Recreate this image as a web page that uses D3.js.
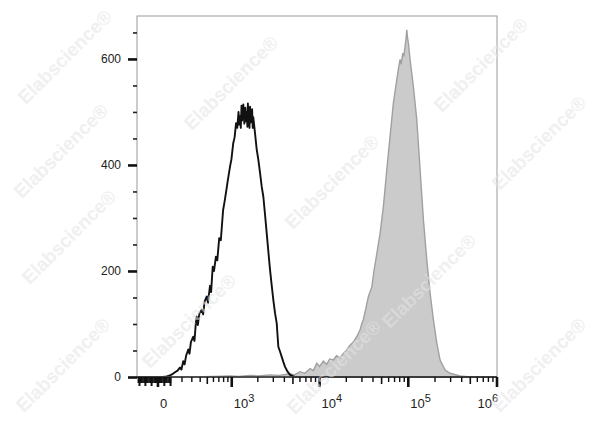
<!DOCTYPE html>
<html><head><meta charset="utf-8">
<script src="https://cdn.jsdelivr.net/npm/d3@7/dist/d3.min.js"></script>
<style>body{margin:0;background:#fff}svg{display:block}text{font-family:"Liberation Sans",Arial,sans-serif}</style>
</head><body><svg id="c" width="600" height="427"></svg>
<script>
// Control (unstained) histogram: fluorescence value, event count
const ctrlX=[-172,-100,0,40,69,95,120,137,160,181,195,212,225,240,262,275,290,316,330,345,356,370,390,421,440,460,492,510,542,560,587,610,644,670,707,740,789,820,864,900,954,990,1041,1080,1123,1160,1200,1225,1249,1275,1300,1320,1340,1364,1400,1420,1440,1470,1493,1520,1540,1560,1580,1605,1628,1655,1680,1720,1750,1776,1857,1940,2026,2120,2215,2312,2420,2525,2640,2754,2880,3001,3140,3278,3419,3570,3735,3900,4073,4350,4638,5280,1000000];
const ctrlY=[0,0,0,0,1,3,6,9,12,18,14,30,24,40,52,44,66,76,68,100,114,98,120,127,118,142,152,140,172,160,208,200,227,220,262,258,315,330,353,372,397,410,441,452,479,470,500,476,492,470,512,484,500,514,478,498,508,482,500,472,516,488,495,470,510,480,490,505,470,490,460,430,410,385,359,340,305,271,235,202,172,145,120,101,57,48,38,28,19,10,4,0,0];
// Stained histogram
const stainX=[-172,300,600,954,1200,1628,2000,2754,3500,4638,5200,6014,6800,7800,8500,9280,10000,11000,12000,13000,14300,15500,17000,18550,20000,22000,24000,26200,28600,29800,31100,33000,35500,38800,41000,44200,48100,52400,57200,62300,67900,74200,78000,80800,83000,86700,89000,92000,94500,96100,98000,100200,104700,114100,124600,135800,148000,161500,176100,191900,209500,228300,260000,295900,383500,497600,1000000];
const stainY=[0,0,1,2,1,3,2,4,3,6,4,10,7,16,12,26,20,30,24,34,32,40,36,45,50,60,66,76,89,100,108,127,152,170,200,233,271,322,391,454,517,561,585,599,590,611,605,624,640,655,640,630,599,548,485,391,297,221,158,108,64,32,13,7,2,0,0];
// Axis ticks
const yMajor=[0,200,400,600];
const yMinor=[50,100,150,250,300,350,450,500,550,650];
const xMajor=[0,1e3,1e4,1e5,1e6];
const xLabels=["0","10|3","10|4","10|5","10|6"];
const xNearZero=[-160,-150,-140,-130,-120,-110,-100,-90,-80,-70,-60,-50,-40,-30,-20,-10,10,20,30,40,50,60,70,80,90,100];
const xNearZeroLong=[-150,-100,-50,0,50,100];
const xMinor=[200,300,400,600,700,800,900,2e3,3e3,4e3,6e3,7e3,8e3,9e3,2e4,3e4,4e4,6e4,7e4,8e4,9e4,2e5,3e5,4e5,6e5,7e5,8e5,9e5];
const xMid=[500,5e3,5e4,5e5];
const watermarks=[[66,58],[232,84],[482,66],[62,152],[333,183],[540,144],[70,238],[190,322],[430,282],[540,366],[335,368],[64,366]];

const W=301; // biexponential width constant
const T=v=>Math.asinh(v/W);
const lin=d3.scaleLinear().domain([T(-172),T(1e6)]).range([137,497]);
const x=v=>lin(T(v));
const y=d3.scaleLinear().domain([0,681]).range([377,16]);

const svg=d3.select("#c");
// stained filled histogram
const pts=stainX.map((v,i)=>[v,stainY[i]]);
svg.append("path").datum(pts)
 .attr("d",d3.area().x(d=>x(d[0])).y0(y(0)).y1(d=>y(d[1])))
 .attr("fill","#cbcbcb").attr("stroke","#a0a0a0").attr("stroke-width",1.4);
// control line
const cp=ctrlX.map((v,i)=>[v,ctrlY[i]]);
svg.append("path").datum(cp)
 .attr("d",d3.line().x(d=>x(d[0])).y(d=>y(d[1])))
 .attr("fill","none").attr("stroke","#111").attr("stroke-width",1.9).attr("stroke-linejoin","round");

// frame
svg.append("rect").attr("x",137).attr("y",16).attr("width",360).attr("height",361)
 .attr("fill","none").attr("stroke","#9a9a9a").attr("stroke-width",1);

// y axis
const ya=svg.append("g").attr("transform","translate(137,0)");
ya.call(d3.axisLeft(y).tickValues(yMajor).tickSize(9).tickPadding(7).tickFormat(d3.format("d")));
ya.select(".domain").remove();
ya.selectAll(".tick line").attr("stroke","#111").attr("stroke-width",2.6);
ya.selectAll(".tick text").attr("font-size",12).attr("fill","#222");
const ym=svg.append("g").attr("transform","translate(137,0)");
ym.call(d3.axisLeft(y).tickValues(yMinor).tickSize(4).tickFormat(""));
ym.select(".domain").remove();
ym.selectAll(".tick line").attr("stroke","#222").attr("stroke-width",1.6);

// x axis
const xa=svg.append("g").attr("transform","translate(0,377)");
xa.append("line").attr("x1",137).attr("x2",497).attr("stroke","#333").attr("stroke-width",1.5);
function ticks(vals,len,w){
 xa.append("g").selectAll("line").data(vals).join("line")
  .attr("x1",d=>x(d)).attr("x2",d=>x(d)).attr("y1",0).attr("y2",len)
  .attr("stroke","#111").attr("stroke-width",w);
}
ticks(xNearZero,6,1.6);
ticks(xNearZeroLong,9,2);
ticks(xMinor,5,1.4);
ticks(xMid,7,1.6);
ticks(xMajor,10,2.6);
xa.append("g").selectAll("text").data(xMajor).join("text")
 .attr("x",(d,i)=>i===xMajor.length-1?x(d)+1:x(d)+2)
 .attr("y",31).attr("font-size",13).attr("fill","#222")
 .attr("text-anchor",(d,i)=>i===xMajor.length-1?"end":"start")
 .each(function(d,i){
   const p=xLabels[i].split("|"); const t=d3.select(this);
   t.append("tspan").text(p[0]);
   if(p[1]) t.append("tspan").attr("dy",-6).attr("font-size",11).text(p[1]);
 });

// watermarks on top, very light and semi-transparent
svg.append("g").selectAll("text").data(watermarks).join("text")
 .attr("transform",d=>`translate(${d[0]},${d[1]}) rotate(-45)`)
 .attr("text-anchor","middle").attr("dominant-baseline","middle")
 .attr("font-size",19).attr("font-weight","bold").attr("fill","#e4e4e4").attr("opacity",0.55)
 .text("Elabscience®");
</script></body></html>
